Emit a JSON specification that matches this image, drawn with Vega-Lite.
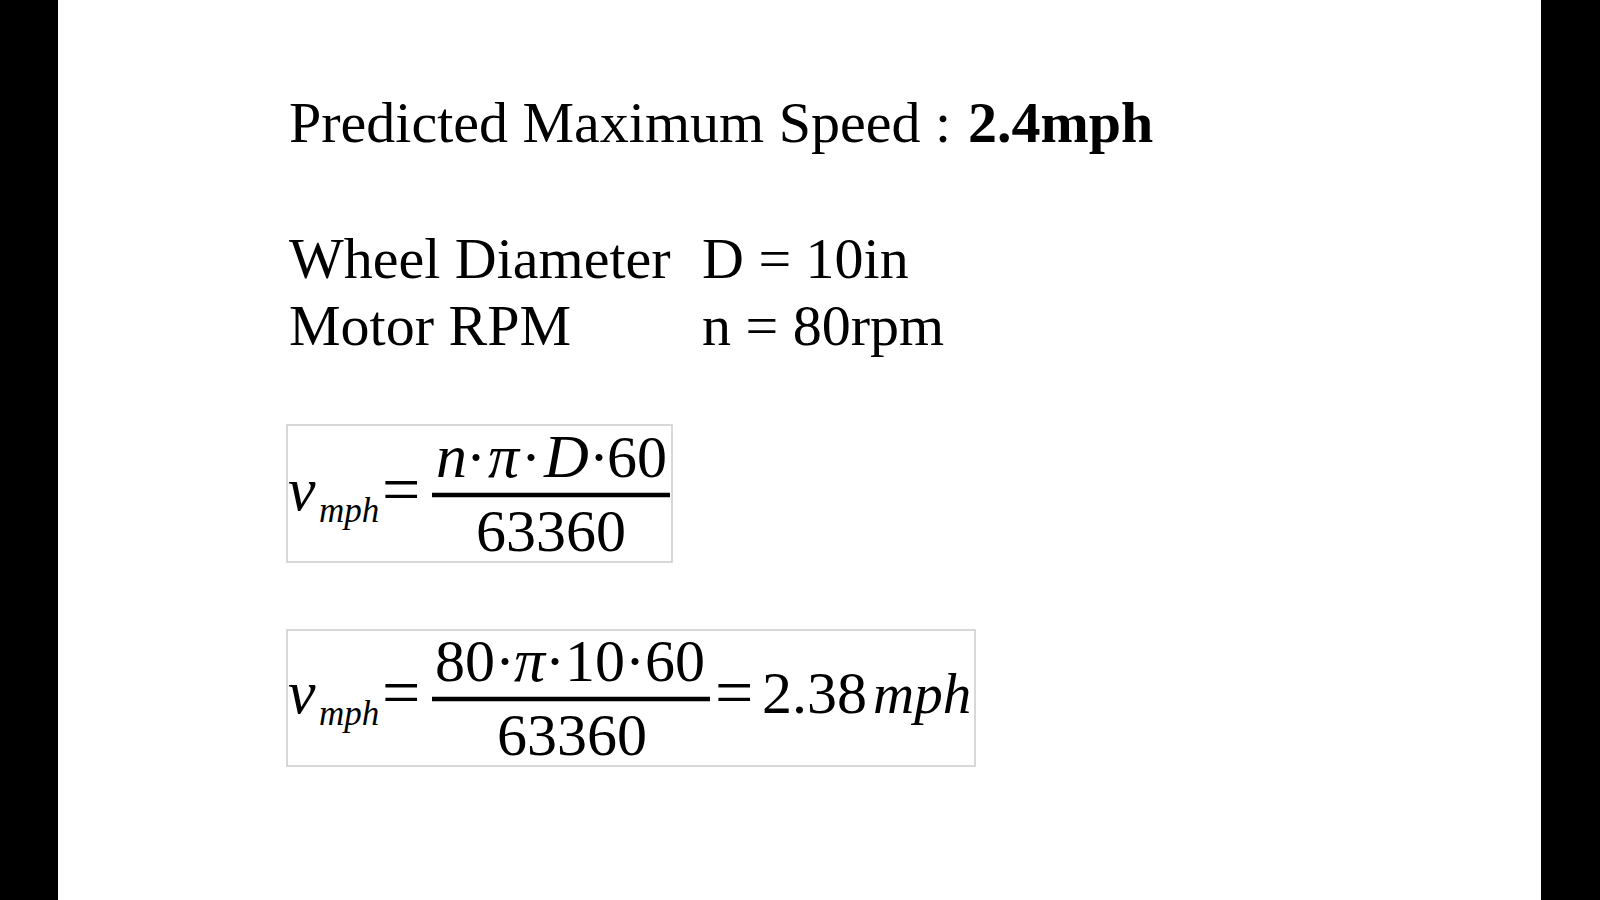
{
  "$schema": "https://vega.github.io/schema/vega-lite/v6.json",
  "autosize": {"type": "fit", "contains": "padding"},
  "width": 1600,
  "height": 900,
  "padding": 0,
  "background": "white",
  "config": {"view": {"stroke": null}},
  "datasets": {
    "bars": [
      {"x": 0, "x2": 58, "y": 0, "y2": 900},
      {"x": 1541, "x2": 1600, "y": 0, "y2": 900}
    ],
    "boxes": [
      {"x": 287, "x2": 672, "y": 425, "y2": 562},
      {"x": 287, "x2": 975, "y": 630, "y2": 766}
    ],
    "fracs": [
      {"x": 432, "x2": 670, "y": 495},
      {"x": 432, "x2": 710, "y": 699}
    ],
    "plain": [
      {"x": 289, "y": 142, "text": "Predicted Maximum Speed :"},
      {"x": 289, "y": 278, "text": "Wheel Diameter"},
      {"x": 702, "y": 278, "text": "D = 10in"},
      {"x": 289, "y": 345, "text": "Motor RPM"},
      {"x": 702, "y": 345, "text": "n = 80rpm"}
    ],
    "bold": [
      {"x": 968, "y": 142, "text": "2.4mph"}
    ],
    "mathItalic": [
      {"x": 288, "y": 510, "text": "v"},
      {"x": 436, "y": 477, "text": "n"},
      {"x": 488, "y": 477, "text": "π"},
      {"x": 544, "y": 477, "text": "D"},
      {"x": 288, "y": 713, "text": "v"},
      {"x": 514, "y": 681, "text": "π"}
    ],
    "unitItalic": [
      {"x": 873, "y": 713, "text": "mph"}
    ],
    "mathSub": [
      {"x": 319, "y": 522, "text": "mph"},
      {"x": 319, "y": 725, "text": "mph"}
    ],
    "dots": [
      {"x": 476, "y": 477, "text": "·"},
      {"x": 531, "y": 477, "text": "·"},
      {"x": 599, "y": 477, "text": "·"}
    ],
    "mathUpright": [
      {"x": 607, "y": 477, "text": "60"},
      {"x": 476, "y": 551, "text": "63360"},
      {"x": 435, "y": 681, "text": "80·"},
      {"x": 545, "y": 681, "text": "·10·60"},
      {"x": 497, "y": 755, "text": "63360"},
      {"x": 762, "y": 713, "text": "2.38"}
    ],
    "equals": [
      {"x": 382, "y": 512, "text": "="},
      {"x": 382, "y": 715, "text": "="},
      {"x": 715, "y": 715, "text": "="}
    ]
  },
  "encoding": {
    "x": {"field": "x", "type": "quantitative", "scale": {"domain": [0, 1600], "nice": false, "zero": false}, "axis": null},
    "y": {"field": "y", "type": "quantitative", "scale": {"domain": [0, 900], "nice": false, "zero": false, "reverse": true}, "axis": null}
  },
  "layer": [
    {
      "data": {"name": "bars"},
      "mark": {"type": "rect", "color": "black"},
      "encoding": {"x2": {"field": "x2"}, "y2": {"field": "y2"}}
    },
    {
      "data": {"name": "boxes"},
      "mark": {"type": "rect", "fill": null, "stroke": "#cccccc", "strokeWidth": 1.5},
      "encoding": {"x2": {"field": "x2"}, "y2": {"field": "y2"}}
    },
    {
      "data": {"name": "fracs"},
      "mark": {"type": "rule", "color": "black", "strokeWidth": 4.5},
      "encoding": {"x2": {"field": "x2"}}
    },
    {
      "data": {"name": "plain"},
      "mark": {"type": "text", "font": "Liberation Serif", "fontSize": 58, "align": "left", "baseline": "alphabetic", "color": "black"},
      "encoding": {"text": {"field": "text"}}
    },
    {
      "data": {"name": "bold"},
      "mark": {"type": "text", "font": "Liberation Serif", "fontSize": 58, "fontWeight": "bold", "align": "left", "baseline": "alphabetic", "color": "black"},
      "encoding": {"text": {"field": "text"}}
    },
    {
      "data": {"name": "mathItalic"},
      "mark": {"type": "text", "font": "Liberation Serif", "fontSize": 62, "fontStyle": "italic", "align": "left", "baseline": "alphabetic", "color": "black"},
      "encoding": {"text": {"field": "text"}}
    },
    {
      "data": {"name": "unitItalic"},
      "mark": {"type": "text", "font": "Liberation Serif", "fontSize": 57, "fontStyle": "italic", "align": "left", "baseline": "alphabetic", "color": "black"},
      "encoding": {"text": {"field": "text"}}
    },
    {
      "data": {"name": "mathSub"},
      "mark": {"type": "text", "font": "Liberation Serif", "fontSize": 35, "fontStyle": "italic", "align": "left", "baseline": "alphabetic", "color": "black"},
      "encoding": {"text": {"field": "text"}}
    },
    {
      "data": {"name": "dots"},
      "mark": {"type": "text", "font": "Liberation Serif", "fontSize": 60, "align": "center", "baseline": "alphabetic", "color": "black"},
      "encoding": {"text": {"field": "text"}}
    },
    {
      "data": {"name": "mathUpright"},
      "mark": {"type": "text", "font": "Liberation Serif", "fontSize": 60, "align": "left", "baseline": "alphabetic", "color": "black"},
      "encoding": {"text": {"field": "text"}}
    },
    {
      "data": {"name": "equals"},
      "mark": {"type": "text", "font": "Liberation Serif", "fontSize": 68, "align": "left", "baseline": "alphabetic", "color": "black"},
      "encoding": {"text": {"field": "text"}}
    }
  ]
}
